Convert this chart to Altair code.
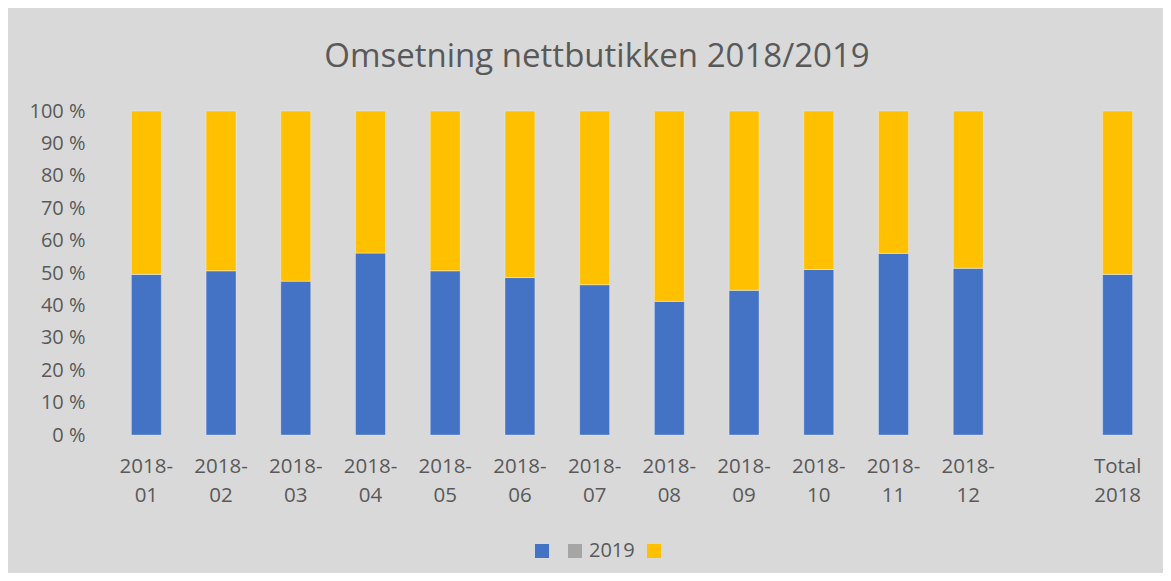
import altair as alt
import pandas as pd

categories = ["2018-01", "2018-02", "2018-03", "2018-04", "2018-05", "2018-06",
              "2018-07", "2018-08", "2018-09", "2018-10", "2018-11", "2018-12",
              "Total 2018"]
axis_domain = categories[:12] + ["gap"] + ["Total 2018"]

series_blue = [49.6, 50.7, 47.5, 56.2, 50.7, 48.6, 46.4, 41.3, 44.7, 51.1, 56.1, 51.5, 49.6]
series_2019 = [0, 0, 0, 0, 0, 0, 0, 0, 0, 0, 0, 0, 0]
series_yellow = [50.4, 49.3, 52.5, 43.8, 49.3, 51.4, 53.6, 58.7, 55.3, 48.9, 43.9, 48.5, 50.4]

series_names = ["s1", "2019", "s3"]
colors = ["#4472C4", "#A5A5A5", "#FFC000"]

rows = []
for i, c in enumerate(categories):
    for k, (name, vals) in enumerate(zip(series_names, [series_blue, series_2019, series_yellow])):
        rows.append({"cat": c, "series": name, "value": vals[i], "ord": k})
df = pd.DataFrame(rows)

FONT = "Open Sans"
TXT = "#595959"

label_expr_x = ("datum.label == 'gap' ? '' : (datum.label == 'Total 2018' ? ['Total', '2018'] : "
                "[slice(datum.label, 0, 5), slice(datum.label, 5)])")

chart = alt.Chart(df).mark_bar(stroke="white", strokeWidth=1, strokeOpacity=0.3).encode(
    x=alt.X("cat:N", scale=alt.Scale(domain=axis_domain, paddingInner=0.6, paddingOuter=0.3),
            sort=axis_domain,
            axis=alt.Axis(title=None, labelAngle=0, labelExpr=label_expr_x, domain=False, ticks=False,
                          labelFont=FONT, labelFontSize=20.5, labelColor=TXT, labelLineHeight=29,
                          labelPadding=21, labelBaseline="top")),
    y=alt.Y("value:Q", stack="normalize",
            scale=alt.Scale(domain=[0, 1]),
            axis=alt.Axis(title=None, values=[0, 0.1, 0.2, 0.3, 0.4, 0.5, 0.6, 0.7, 0.8, 0.9, 1.0],
                          labelExpr="format(datum.value * 100, '.0f') + ' %'",
                          grid=False, domain=False, ticks=False, labelFont=FONT, labelFontSize=20,
                          labelColor=TXT, labelPadding=24)),
    color=alt.Color("series:N", scale=alt.Scale(domain=series_names, range=colors),
                    legend=alt.Legend(title=None, orient="none", legendX=423, legendY=430,
                                      direction="horizontal", symbolType="square", symbolSize=196,
                                      symbolStrokeWidth=0, labelFont=FONT, labelFontSize=20,
                                      labelColor=TXT, labelOffset=4, columnPadding=9, padding=0,
                                      labelExpr="datum.label == '2019' ? '2019' : ''")),
    order=alt.Order("ord:Q"),
).properties(
    width=1046,
    height=324,
    title=alt.TitleParams("Omsetning nettbutikken 2018/2019", font=FONT, fontSize=33,
                          fontWeight="normal", color=TXT, anchor="middle", dx=-35, offset=27),
    background="#D9D9D9",
    padding={"left": 101, "top": 103, "right": 8, "bottom": 138},
    autosize=alt.AutoSizeParams(type="none"),
).configure_view(stroke=None)

chart.save("out.html", embed_options={"renderer": "svg", "actions": False})
